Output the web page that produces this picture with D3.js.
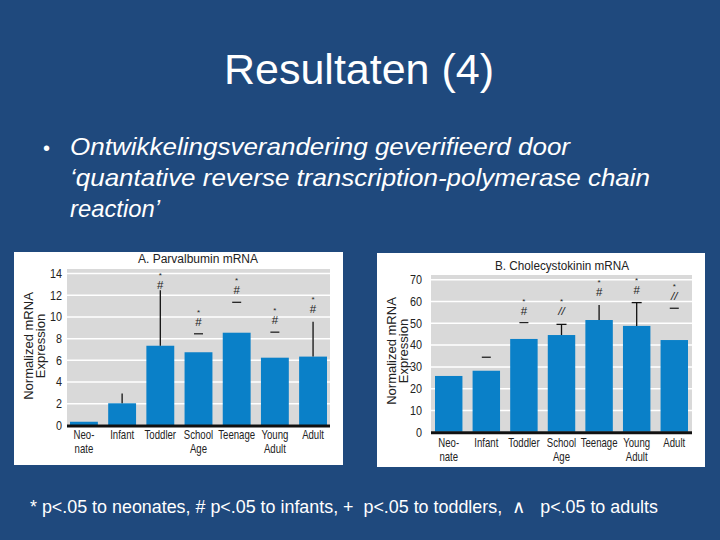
<!DOCTYPE html>
<html>
<head>
<meta charset="utf-8">
<script src="https://cdn.jsdelivr.net/npm/d3@7"></script>
<style>
  body { margin: 0; background: #1f497d; }
  svg { display: block; }
</style>
</head>
<body>
<svg id="slide"></svg>
<script>
// categories shared by both panels
const ages = ["Neo-|nate", "Infant", "Toddler", "School|Age", "Teenage", "Young|Adult", "Adult"];

// A. Parvalbumin mRNA
const pvValues = [0.3, 2.0, 7.3, 6.7, 8.5, 6.2, 6.3];
const pvErrTop = [null, 2.9, 12.4, null, null, null, 9.5];
const pvCaps = [false, false, false, false, false, false, false];
const pvMarks = [[], [], ["#", "*"], ["—", "#", "*"], ["—", "#", "*"], ["—", "#", "*"], ["#", "*"]];
const pvMarkBase = [null, null, 12.9, 8.4, 11.3, 8.55, 10.7];
const pvTicks = [0, 2, 4, 6, 8, 10, 12, 14];

// B. Cholecystokinin mRNA
const ckValues = [25.6, 28.0, 42.6, 44.4, 51.3, 48.6, 42.1];
const ckErrTop = [null, null, null, 49.3, 58.2, 59.3, null];
const ckCaps = [false, false, false, true, false, true, false];
const ckMarks = [[], ["—"], ["—", "#", "*"], ["//", "*"], ["#", "*"], ["#", "*"], ["—", "//", "*"]];
const ckMarkBase = [null, 34.2, 50.1, 55.5, 64.3, 65.2, 56.7];
const ckTicks = [0, 10, 20, 30, 40, 50, 60, 70];

const W = 720, H = 540;
const blue = "#0a80c8";
const slideFont = "Liberation Sans, Arial, sans-serif";
const chartFont = "Liberation Sans, Arial, sans-serif";
const squeeze = 0.8; // the figure uses a condensed face
const svg = d3.select("#slide").attr("width", W).attr("height", H);

svg.append("rect").attr("width", W).attr("height", H).attr("fill", "#1f497d");

svg.append("text")
   .attr("x", 359).attr("y", 84)
   .attr("text-anchor", "middle")
   .attr("font-family", slideFont)
   .attr("font-size", "43px")
   .attr("fill", "white")
   .text("Resultaten (4)");

svg.append("text")
   .attr("x", 43).attr("y", 155)
   .attr("font-family", slideFont)
   .attr("font-size", "20px")
   .attr("fill", "white")
   .text("•");

const bullet = [
  ["Ontwikkelingsverandering geverifieerd door", 500],
  ["‘quantative reverse transcription-polymerase chain", 580],
  ["reaction’", 90]
];
svg.selectAll(".bl")
   .data(bullet)
   .enter().append("text")
   .attr("class", "bl")
   .attr("x", 70)
   .attr("y", (d, i) => 155 + i * 31)
   .attr("font-family", slideFont)
   .attr("font-style", "italic")
   .attr("font-size", "24px")
   .attr("textLength", d => d[1])
   .attr("lengthAdjust", "spacingAndGlyphs")
   .attr("fill", "white")
   .text(d => d[0]);

svg.append("text")
   .attr("x", 30).attr("y", 513)
   .attr("font-family", slideFont)
   .attr("font-size", "17.5px")
   .attr("fill", "white")
   .attr("xml:space", "preserve")
   .attr("textLength", 628)
   .attr("lengthAdjust", "spacingAndGlyphs")
   .text("* p<.05 to neonates, # p<.05 to infants, +  p<.05 to toddlers,  \u2227   p<.05 to adults");

function drawPanel(p) {
    const g = svg.append("g");

    g.append("rect")
     .attr("x", p.box[0]).attr("y", p.box[1])
     .attr("width", p.box[2] - p.box[0]).attr("height", p.box[3] - p.box[1])
     .attr("fill", "white");

    const x = d3.scaleBand().domain(ages).range(p.xRange).paddingInner(0.27).paddingOuter(0);
    const y = d3.scaleLinear().domain(p.yDomain).range(p.yRange);

    g.append("rect")
     .attr("x", p.plot[0]).attr("y", p.plot[1])
     .attr("width", p.plot[2] - p.plot[0]).attr("height", y(0) - p.plot[1])
     .attr("fill", "#d9d9d9");

    const yAxis = g.append("g")
     .attr("transform", `translate(${p.plot[0]},0)`)
     .call(d3.axisLeft(y).tickValues(p.ticks).tickSize(-(p.plot[2] - p.plot[0])));
    yAxis.select(".domain").remove();
    yAxis.selectAll("line").attr("stroke", "white").attr("stroke-width", 1.5);
    yAxis.selectAll("text")
         .attr("x", -p.tickPad / squeeze)
         .attr("transform", `scale(${squeeze},1)`)
         .attr("font-family", chartFont).attr("font-size", "13.5px").attr("fill", "#222");

    g.selectAll(".bar")
     .data(p.values)
     .enter().append("rect")
     .attr("x", (d, i) => x(ages[i]))
     .attr("y", d => y(d))
     .attr("width", x.bandwidth())
     .attr("height", d => y(0) - y(d))
     .attr("fill", blue);

    p.errTop.forEach((e, i) => {
        if (e == null) return;
        const cx = x(ages[i]) + x.bandwidth() / 2;
        g.append("line")
         .attr("x1", cx).attr("x2", cx)
         .attr("y1", y(p.values[i])).attr("y2", y(e))
         .attr("stroke", "#111").attr("stroke-width", 1.3);
        if (p.caps[i]) {
            g.append("line")
             .attr("x1", cx - 5).attr("x2", cx + 5)
             .attr("y1", y(e)).attr("y2", y(e))
             .attr("stroke", "#111").attr("stroke-width", 1.3);
        }
    });

    // significance marks, stacked upward from the base value
    p.marks.forEach((m, i) => {
        const cx = x(ages[i]) + x.bandwidth() / 2;
        m.forEach((s, k) => {
            const cy = y(p.markBase[i]) - k * 12;
            if (s === "—") {
                g.append("line")
                 .attr("x1", cx - 4.5).attr("x2", cx + 4.5)
                 .attr("y1", cy).attr("y2", cy)
                 .attr("stroke", "#222").attr("stroke-width", 1.3);
            } else {
                g.append("text")
                 .attr("x", cx).attr("y", cy + (s === "*" ? 5 : 4))
                 .attr("text-anchor", "middle")
                 .attr("font-family", chartFont)
                 .attr("font-style", s === "//" ? "italic" : "normal")
                 .attr("font-size", s === "*" ? "8px" : "11.5px")
                 .attr("fill", "#222")
                 .text(s);
            }
        });
    });

    g.append("line")
     .attr("x1", p.plot[0]).attr("x2", p.plot[2])
     .attr("y1", y(0) + 1).attr("y2", y(0) + 1)
     .attr("stroke", "#111").attr("stroke-width", 3);

    const xAxis = g.append("g")
     .attr("transform", `translate(0,${y(0)})`)
     .call(d3.axisBottom(x).tickSize(0).tickPadding(0).tickFormat(""));
    xAxis.select(".domain").remove();
    xAxis.selectAll(".tick").append("text")
     .attr("text-anchor", "middle")
     .attr("transform", `scale(${squeeze},1)`)
     .attr("font-family", chartFont).attr("font-size", "12px").attr("fill", "#222")
     .each(function (d) {
         d3.select(this).selectAll("tspan")
           .data(d.split("|"))
           .enter().append("tspan")
           .attr("x", 0)
           .attr("y", (t, j) => p.labelY + j * 14)
           .text(t => t);
     });

    g.append("text")
     .attr("x", p.titleX).attr("y", p.titleY)
     .attr("text-anchor", "middle")
     .attr("font-family", chartFont).attr("font-size", "12px").attr("fill", "#222")
     .attr("textLength", p.titleW)
     .attr("lengthAdjust", "spacingAndGlyphs")
     .attr("transform", null)
     .text(p.title);

    const yl = g.append("text")
     .attr("transform", `translate(${p.yLabelX},${p.yLabelY}) rotate(-90)`)
     .attr("text-anchor", "middle")
     .attr("font-family", chartFont).attr("font-size", "13px").attr("fill", "#222");
    yl.append("tspan").attr("x", 0).attr("y", 0).text("Normalized mRNA");
    yl.append("tspan").attr("x", 0).attr("y", 12).text("Expression");
}

drawPanel({
    box: [14, 252, 343, 465],
    plot: [67, 269, 330],
    xRange: [70, 327],
    yDomain: [0, 14], yRange: [425, 273],
    ticks: pvTicks, tickPad: 5,
    values: pvValues, errTop: pvErrTop, caps: pvCaps,
    marks: pvMarks, markBase: pvMarkBase,
    labelY: 14,
    title: "A. Parvalbumin mRNA", titleX: 198, titleY: 263, titleW: 120,
    yLabelX: 33, yLabelY: 346
});

drawPanel({
    box: [377, 253, 705, 467],
    plot: [431, 275, 692],
    xRange: [435, 688],
    yDomain: [0, 70], yRange: [431.7, 279.3],
    ticks: ckTicks, tickPad: 9,
    values: ckValues, errTop: ckErrTop, caps: ckCaps,
    marks: ckMarks, markBase: ckMarkBase,
    labelY: 15,
    title: "B. Cholecystokinin mRNA", titleX: 562, titleY: 270, titleW: 134,
    yLabelX: 396, yLabelY: 351
});
</script>
</body>
</html>
